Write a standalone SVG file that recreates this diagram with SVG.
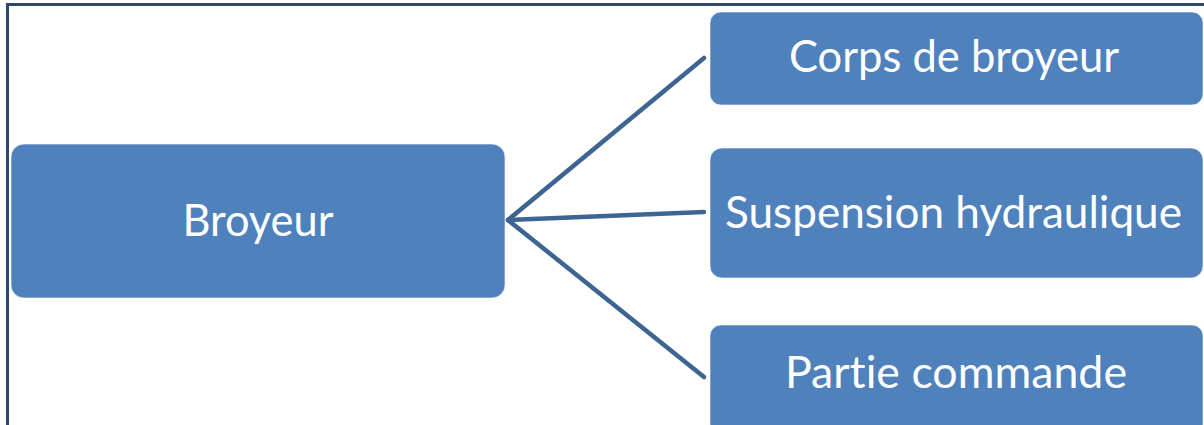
<svg xmlns="http://www.w3.org/2000/svg" width="1204" height="425" viewBox="0 0 1204 425">
  <style>
    .box { fill: #4f81bd; stroke: #ffffff; stroke-opacity: 0.6; stroke-width: 1; }
    .label { font-family: Lato, "Open Sans", "Liberation Sans", sans-serif; font-size: 45px; fill: #ffffff; text-anchor: middle; font-variant-ligatures: none; font-feature-settings: "liga" 0, "dlig" 0; }
    .link { stroke: #3e6492; stroke-width: 4.5; fill: none; stroke-linecap: round; }
    .frame { stroke: #2d4a6c; stroke-width: 3; fill: none; }
  </style>
  <rect x="0" y="0" width="1204" height="425" fill="#ffffff"/>
  <!-- outer frame, open on the right and bottom -->
  <path class="frame" d="M7.5 430 V4.5 H1210"/>

  <g id="connectors">
    <line class="link" x1="508" y1="220" x2="704" y2="58"/>
    <line class="link" x1="508" y1="220" x2="704" y2="212"/>
    <line class="link" x1="508" y1="220" x2="704" y2="377"/>
  </g>

  <g id="broyeur">
    <rect class="box" x="11" y="144" width="494" height="154" rx="13"/>
    <text class="label" x="258" y="236" textLength="151" lengthAdjust="spacingAndGlyphs">Broyeur</text>
  </g>
  <g id="corps">
    <rect class="box" x="710" y="12" width="493" height="93" rx="11"/>
    <text class="label" x="954" y="72" textLength="330" lengthAdjust="spacingAndGlyphs">Corps de broyeur</text>
  </g>
  <g id="suspension">
    <rect class="box" x="710" y="148" width="493" height="130" rx="12"/>
    <text class="label" x="953.5" y="228" textLength="457" lengthAdjust="spacingAndGlyphs">Suspension hydraulique</text>
  </g>
  <g id="partie">
    <rect class="box" x="710" y="325" width="493" height="110" rx="11"/>
    <text class="label" x="956" y="388" textLength="342" lengthAdjust="spacingAndGlyphs">Partie commande</text>
  </g>
</svg>
